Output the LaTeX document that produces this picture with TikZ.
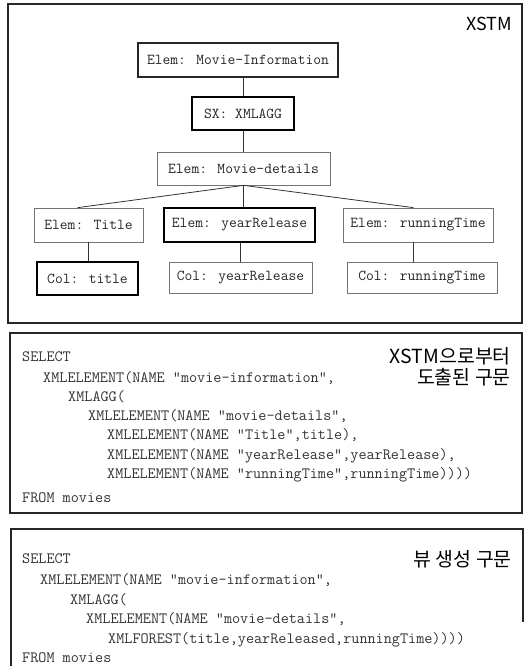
\documentclass[tikz,border=0pt]{standalone}
\usepackage{fontspec}
\newfontfamily\krfont{Noto Sans CJK KR}
\usetikzlibrary{calc}

\tikzset{
  frame/.style={draw=black!85, line width=1.1pt},
  tnode/.style={draw, align=center, inner sep=0pt, font=\fontsize{15.2}{17}\ttfamily, text=black!85},
  darkbox/.style={tnode, draw=black!85, line width=1.2pt},
  boldbox/.style={tnode, draw=black, line width=1.9pt},
  lightbox/.style={tnode, draw=black!55, line width=0.7pt},
  link/.style={draw=black!80, line width=0.8pt},
  code/.style={anchor=base west, inner sep=0pt, font=\fontsize{15.8}{17}\ttfamily, text=black!80},
  caption/.style={inner sep=0pt, font=\fontsize{19.5}{22}\krfont, text=black}
}

\begin{document}
\begin{tikzpicture}[x=1bp, y=-1bp]
\useasboundingbox (0,0) rectangle (524,666);

% ---------- XSTM tree ----------
\draw[frame] (8,4) rectangle (522,323);
\node[caption, anchor=east, font=\fontsize{18}{22}\krfont] (xstm) at (512,24) {XSTM};

\node[darkbox,  minimum width=200bp, minimum height=34bp] (mi) at (238,60)    {Elem: Movie-Information};
\node[boldbox,  minimum width=102bp, minimum height=33bp] (sx) at (243,113.5) {SX: XMLAGG};
\node[lightbox, minimum width=173bp, minimum height=33bp] (md) at (243.5,168.5) {Elem: Movie-details};

\node[lightbox, minimum width=109bp, minimum height=34bp] (et) at (88.5,225)  {Elem: Title};
\node[boldbox,  minimum width=151bp, minimum height=34bp] (ey) at (239.5,225) {Elem: yearRelease};
\node[lightbox, minimum width=150bp, minimum height=34bp] (er) at (418,225)   {Elem: runningTime};

\node[boldbox,  minimum width=101bp, minimum height=33bp] (ct) at (87.5,278.5) {Col: title};
\node[lightbox, minimum width=143bp, minimum height=31bp] (cy) at (240.5,277.5) {Col: yearRelease};
\node[lightbox, minimum width=150bp, minimum height=31bp] (cr) at (422,277.5)   {Col: runningTime};

\coordinate (etTop) at ($(et.north west)!0.4!(et.north east)$);
\coordinate (erTop) at ($(er.north west)!0.47!(er.north east)$);
\coordinate (erBot) at ($(er.south west)!0.47!(er.south east)$);

\draw[link] (sx.north) -- (sx.north |- mi.south);
\draw[link] (sx.south) -- (sx.south |- md.north);
\draw[link] (md.south) -- (etTop);
\draw[link] (md.south) -- (md.south |- ey.north);
\draw[link] (md.south) -- (erTop);
\draw[link] (et.south) -- (et.south |- ct.north);
\draw[link] (cy.north) -- (cy.north |- ey.south);
\draw[link] (erBot) -- (erBot |- cr.north);

% ---------- query derived from the XSTM ----------
\draw[frame] (10,333) rectangle (522,513);
\node[caption, anchor=east] (capA) at (511,356) {XSTM으로부터};
\node[caption, anchor=east] (capB) at (511,377) {도출된 구문};

\node[code] (a1) at (22,361)  {SELECT};
\node[code] (a2) at (43,382)  {XMLELEMENT(NAME “movie-information”,};
\node[code] (a3) at (68,401)  {XMLAGG(};
\node[code] (a4) at (88,420)  {XMLELEMENT(NAME “movie-details”,};
\node[code] (a5) at (107,439) {XMLELEMENT(NAME “Title”,title),};
\node[code] (a6) at (107,459) {XMLELEMENT(NAME “yearRelease”,yearRelease),};
\node[code] (a7) at (107,478) {XMLELEMENT(NAME “runningTime”,runningTime))))};
\node[code] (a8) at (22,502)  {FROM movies};

% ---------- view definition query ----------
\draw[frame] (11,666) -- (11,529) -- (523,529) -- (523,622);
\node[caption, anchor=east] (capC) at (512,559.5) {뷰 생성 구문};

\node[code] (b1) at (22,563)  {SELECT};
\node[code] (b2) at (40,584)  {XMLELEMENT(NAME “movie-information”,};
\node[code] (b3) at (70,604)  {XMLAGG(};
\node[code] (b4) at (86,623)  {XMLELEMENT(NAME “movie-details”,};
\node[code] (b5) at (108,643) {XMLFOREST(title,yearReleased,runningTime))))};
\node[code] (b6) at (22,662)  {FROM movies};
\end{tikzpicture}
\end{document}
